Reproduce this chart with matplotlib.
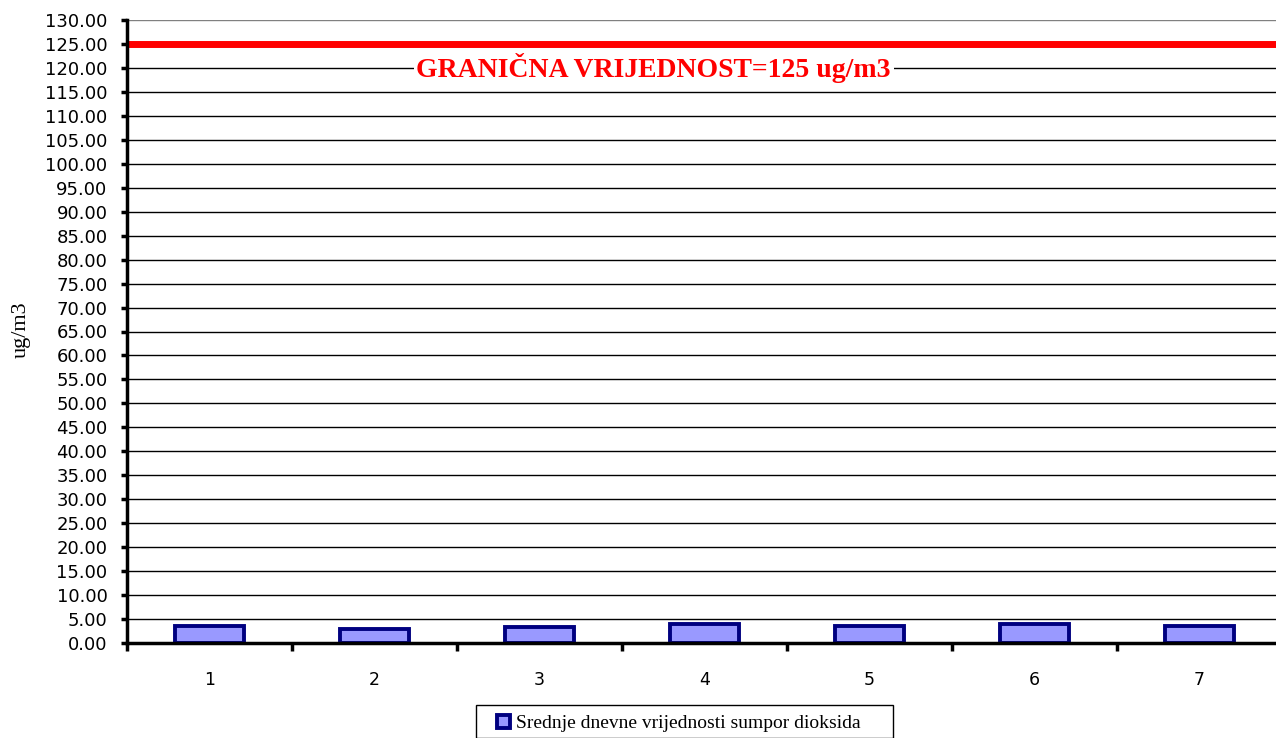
import matplotlib
matplotlib.use('Agg')
import matplotlib.pyplot as plt
from matplotlib.patches import Rectangle
import numpy as np

# daily mean values of SO2 (ug/m3) for 7 days
days = ['1', '2', '3', '4', '5', '6', '7']
so2 = [3.6, 2.9, 3.3, 3.95, 3.6, 3.95, 3.6]
limit = 125
yticks = np.arange(0, 131, 5)

fig = plt.figure(figsize=(12.76, 7.38), dpi=100)
ax = fig.add_axes([127 / 1276, 1 - 643 / 738, 1155 / 1276, 623 / 738])

x = np.arange(1, len(days) + 1)
ax.bar(x, so2, width=0.42, color='#9999FF', edgecolor='#000080',
       linewidth=2.8, zorder=3, label='Srednje dnevne vrijednosti sumpor dioksida')

# horizontal grid
for v in yticks[1:]:
    ax.axhline(v, color='#808080' if v == 130 else 'black', lw=1, zorder=1)
ax.axhline(limit, color='red', lw=5, zorder=4)

ax.text(0.456, 120, 'GRANIČNA VRIJEDNOST=125 ug/m3',
        transform=ax.get_yaxis_transform(), ha='center', va='center',
        color='red', fontsize=20, fontweight='bold', family='Liberation Serif',
        bbox=dict(facecolor='white', edgecolor='none', pad=2), zorder=5)

ax.set_xlim(0.5, 7.5)
ax.set_ylim(0, 130)
ax.set_yticks(yticks)
ax.set_yticklabels(['%.2f' % v for v in yticks], family='DejaVu Sans', fontsize=13)
ax.set_xticks(np.arange(0.5, 8, 1))
ax.set_xticks(x, minor=True)
ax.set_xticklabels([])
ax.set_xticklabels(days, minor=True, family='DejaVu Sans', fontsize=12.5)
ax.tick_params(axis='x', which='major', length=6, width=2.5, direction='out')
ax.tick_params(axis='x', which='minor', length=0, pad=20)
ax.tick_params(axis='y', length=4, width=2.5, pad=10)
for s in ['top', 'right']:
    ax.spines[s].set_visible(False)
ax.spines['left'].set_linewidth(2.5)
ax.spines['bottom'].set_linewidth(2.5)
ax.spines['left'].set_zorder(6)
ax.spines['bottom'].set_zorder(6)

fig.text(21 / 1276, 1 - 330 / 738, 'ug/m3', rotation=90, ha='center', va='center',
         family='Liberation Serif', fontsize=16)

# legend without its own frame; box drawn separately to match the wide padding
leg = fig.legend(loc='upper left', bbox_to_anchor=(480 / 1276, 1 - 698 / 738),
                 frameon=False, prop={'family': 'Liberation Serif', 'size': 14},
                 handlelength=0.7, handleheight=0.7, borderpad=0.35, handletextpad=0.3)
fig.patches.append(Rectangle((476 / 1276, 0), (893 - 476) / 1276, 33 / 738,
                             transform=fig.transFigure, fill=False,
                             edgecolor='black', lw=1))

fig.savefig('out.png', dpi=100)
